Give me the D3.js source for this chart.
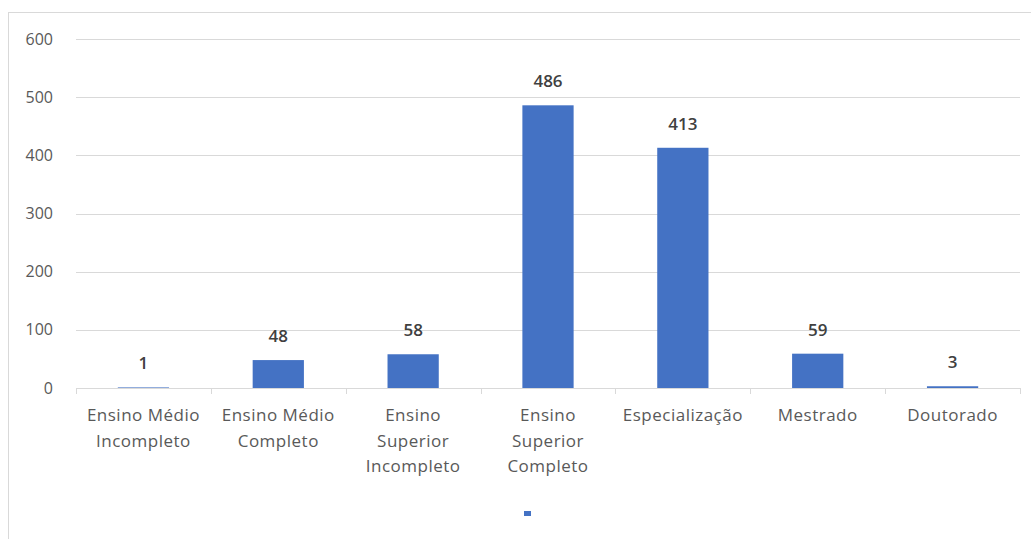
<!DOCTYPE html>
<html><head><meta charset="utf-8">
<script src="https://cdn.jsdelivr.net/npm/d3@7"></script>
<style>html,body{margin:0;padding:0;background:#fff;}svg{display:block;}</style>
</head><body>
<svg id="c" width="1031" height="539"></svg>
<script>
const categories = [["Ensino Médio","Incompleto"],["Ensino Médio","Completo"],["Ensino","Superior","Incompleto"],["Ensino","Superior","Completo"],["Especialização"],["Mestrado"],["Doutorado"]];
const values = [1, 48, 58, 486, 413, 59, 3];
const yTicks = [0, 100, 200, 300, 400, 500, 600];

const svg = d3.select("#c");
const font = "'Open Sans', 'Segoe UI', sans-serif";
// chart border
svg.append("rect").attr("x",8.5).attr("y",12.5).attr("width",1040).attr("height",540)
  .attr("fill","none").attr("stroke","#d9d9d9");

const x0 = 76, x1 = 1020, yTop = 39, yBot = 388;
const keys = categories.map((c,i)=>i);
const x = d3.scaleBand().domain(keys).range([x0,x1]).paddingInner(0.62).paddingOuter(0.31);
const xb = d3.scaleBand().domain(keys).range([x0,x1]);
const y = d3.scaleLinear().domain([0,600]).range([yBot,yTop]);

// gridlines
svg.append("g").selectAll("line").data(yTicks.filter(d=>d>0)).join("line")
  .attr("x1",x0).attr("x2",x1).attr("y1",d=>Math.round(y(d))+0.5).attr("y2",d=>Math.round(y(d))+0.5)
  .attr("stroke","#d9d9d9").attr("stroke-width",1);

// y labels
svg.append("g").selectAll("text").data(yTicks).join("text")
  .attr("x",53).attr("y",d=>y(d)).attr("dy","0.35em").attr("text-anchor","end")
  .attr("font-family",font).attr("font-size",16).attr("fill","#595959").text(d=>d);

// bars
svg.append("g").selectAll("rect").data(values).join("rect")
  .attr("x",(d,i)=>x(i)).attr("width",x.bandwidth())
  .attr("y",d=>y(d)).attr("height",d=>yBot-y(d)).attr("fill","#4472c4");

// x axis line and ticks
svg.append("line").attr("x1",x0).attr("x2",x1).attr("y1",yBot+0.5).attr("y2",yBot+0.5).attr("stroke","#d9d9d9");
const tickXs = keys.map(i=>xb(i)).concat([x1]);
svg.append("g").selectAll("line").data(tickXs).join("line")
  .attr("x1",d=>Math.round(d)+0.5).attr("x2",d=>Math.round(d)+0.5).attr("y1",yBot).attr("y2",yBot+6).attr("stroke","#d9d9d9");

// x labels
const xl = svg.append("g").selectAll("text").data(categories).join("text")
  .attr("x",(d,i)=>xb(i)+xb.bandwidth()/2).attr("y",421)
  .attr("text-anchor","middle").attr("font-family",font).attr("font-size",17)
  .attr("letter-spacing","0.5px").attr("fill","#595959");
xl.selectAll("tspan").data(d=>d).join("tspan")
  .attr("x",function(){return d3.select(this.parentNode).attr("x");})
  .attr("dy",(d,i)=>i===0?0:25.5).text(d=>d);

// data labels
svg.append("g").selectAll("text").data(values).join("text")
  .attr("x",(d,i)=>x(i)+x.bandwidth()/2).attr("y",d=>y(d)-18)
  .attr("text-anchor","middle").attr("font-family",font).attr("font-size",17).attr("font-weight",600)
  .attr("fill","#404040").text(d=>d);

// legend
svg.append("rect").attr("x",524).attr("y",511).attr("width",7).attr("height",5).attr("fill","#4472c4");
</script>
</body></html>
